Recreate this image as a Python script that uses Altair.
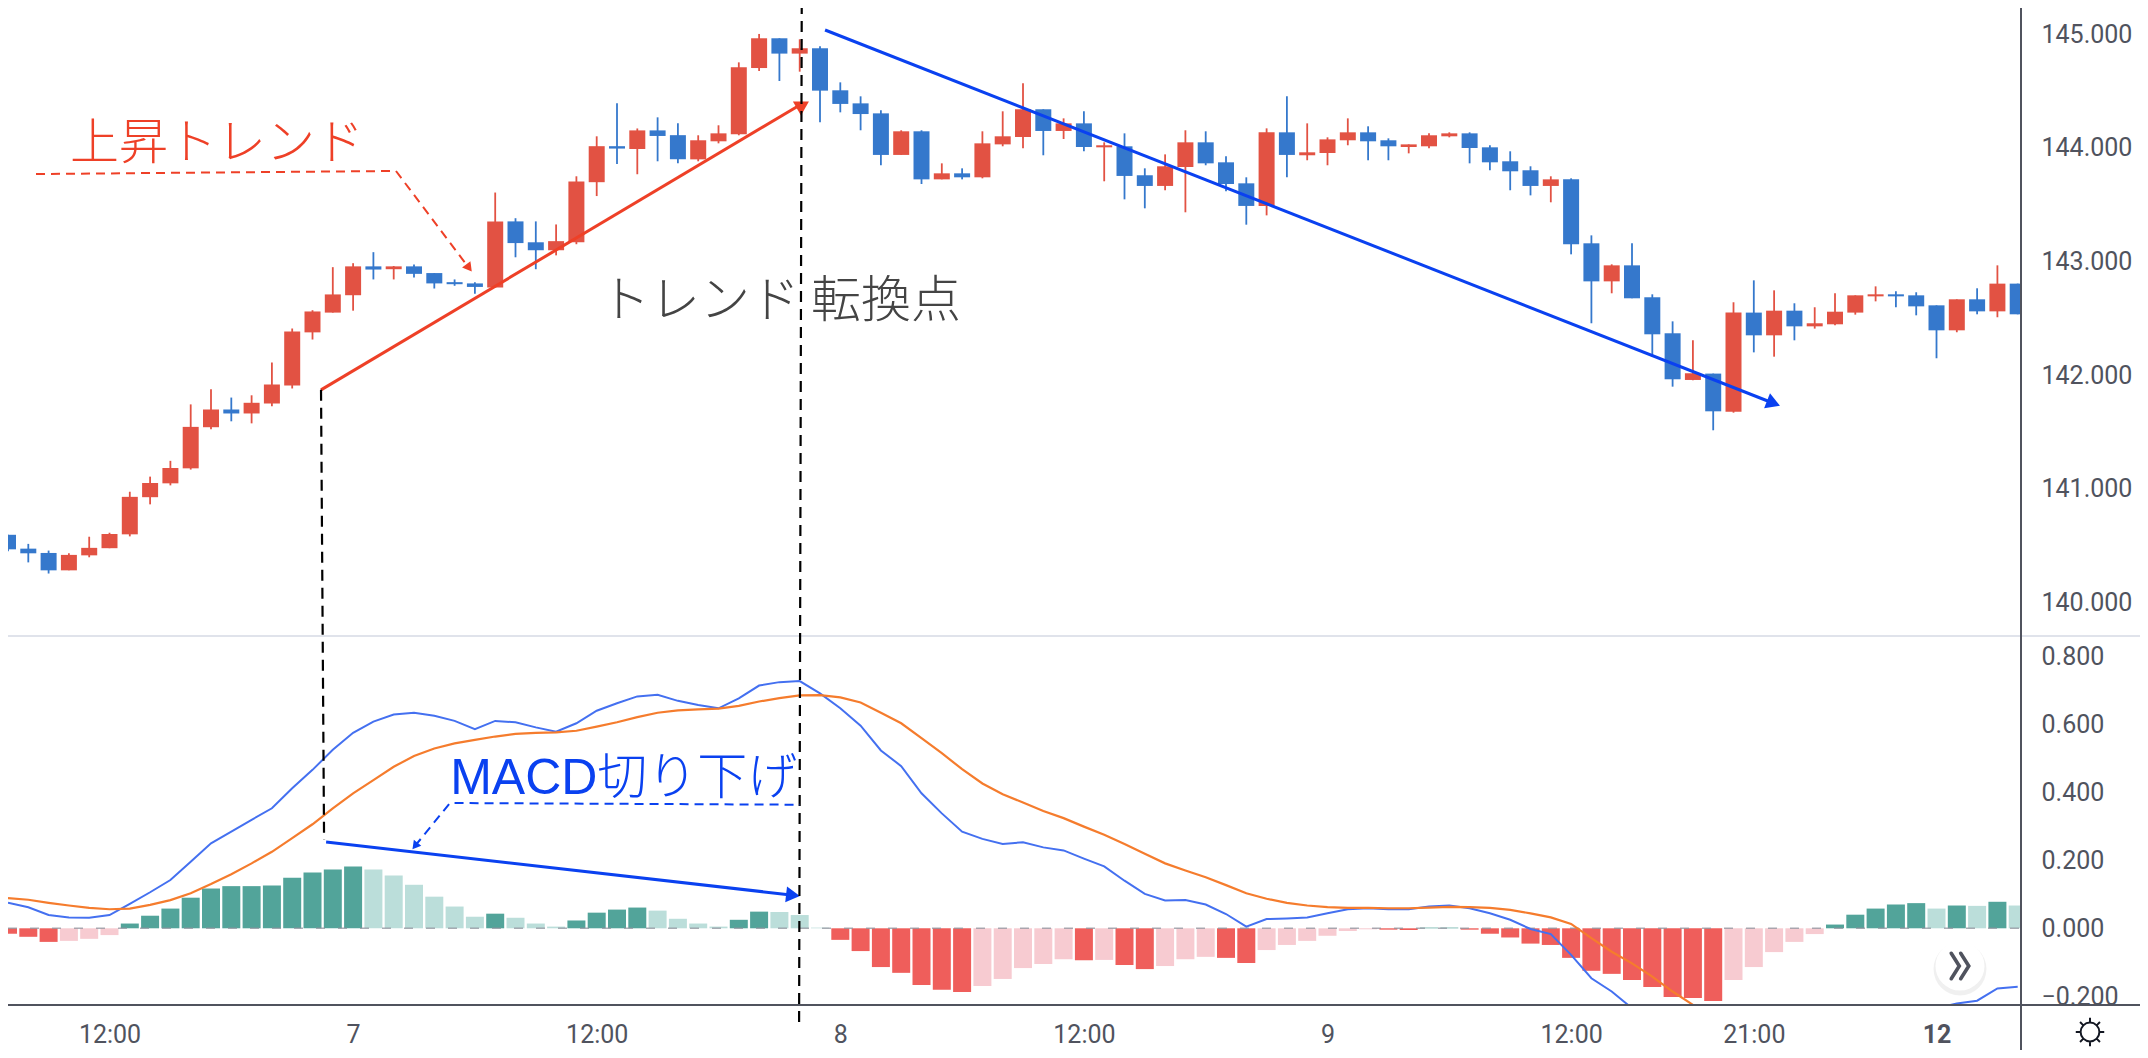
import altair as alt
import pandas as pd

open_ = [140.594,140.472,140.434,140.281,140.413,140.476,140.598,140.925,141.047,141.179,
141.541,141.697,141.662,141.749,141.909,142.376,142.550,142.703,142.957,142.932,
142.957,142.898,142.818,142.807,142.772,143.353,143.169,143.099,143.169,143.698,
144.015,143.990,144.154,144.112,143.899,144.058,144.119,144.703,144.965,144.830,
144.877,144.507,144.392,144.304,143.938,144.146,143.723,143.776,143.741,144.031,
144.096,144.340,144.149,144.216,144.005,144.014,143.759,143.665,143.832,144.049,
143.873,143.688,143.489,144.137,143.935,143.955,144.067,144.137,144.067,144.008,
144.014,144.102,144.128,144.005,143.882,143.803,143.665,143.723,143.160,142.825,
142.966,142.685,142.368,141.957,142.013,141.678,142.550,142.350,142.567,142.429,
142.447,142.550,142.693,142.711,142.702,142.614,142.394,142.667,142.561,142.805]
close = [140.466,140.431,140.281,140.417,140.479,140.601,140.928,141.050,141.182,141.544,
141.697,141.662,141.756,141.916,142.383,142.560,142.710,142.957,142.929,142.957,
142.891,142.807,142.800,142.776,143.353,143.162,143.099,143.179,143.705,144.015,
143.994,144.154,144.105,143.900,144.067,144.128,144.709,144.965,144.830,144.877,
144.504,144.387,144.298,143.938,144.146,143.723,143.776,143.741,144.040,144.102,
144.340,144.149,144.216,144.008,144.023,143.753,143.665,143.838,144.049,143.864,
143.682,143.489,144.137,143.938,143.961,144.075,144.137,144.058,144.014,144.031,
144.111,144.128,143.999,143.873,143.794,143.665,143.723,143.151,142.825,142.966,
142.676,142.359,141.963,142.016,141.681,142.550,142.350,142.567,142.429,142.456,
142.558,142.702,142.711,142.693,142.605,142.394,142.667,142.561,142.805,142.535]
high = [140.594,140.514,140.455,140.431,140.577,140.612,140.973,141.106,141.245,141.742,
141.875,141.802,141.822,142.111,142.410,142.571,142.950,142.985,143.082,142.960,
142.974,142.898,142.842,142.818,143.607,143.381,143.353,143.326,143.750,144.102,
144.394,144.171,144.269,144.216,144.111,144.199,144.753,145.003,144.965,144.956,
144.894,144.577,144.454,144.331,144.155,144.155,143.864,143.820,144.146,144.322,
144.568,144.340,144.260,144.322,144.049,144.128,143.820,143.943,144.155,144.146,
143.926,143.741,144.172,144.454,144.216,144.093,144.260,144.190,144.084,144.031,
144.128,144.137,144.137,144.023,143.970,143.838,143.750,143.732,143.230,142.975,
143.160,142.711,142.473,142.306,142.013,142.641,142.834,142.746,142.632,142.597,
142.720,142.702,142.781,142.737,142.729,142.614,142.667,142.764,142.966,142.805]
low = [140.448,140.351,140.253,140.281,140.396,140.476,140.580,140.862,141.029,141.168,
141.523,141.593,141.575,141.725,141.882,142.313,142.550,142.567,142.842,142.842,
142.859,142.762,142.786,142.717,142.772,143.037,142.932,143.054,143.152,143.576,
143.858,143.768,143.882,143.865,143.882,144.040,144.111,144.677,144.589,144.671,
144.225,144.313,144.155,143.847,143.938,143.682,143.723,143.723,143.732,144.014,
143.996,143.935,144.078,143.970,143.706,143.547,143.468,143.627,143.433,143.847,
143.618,143.324,143.406,143.741,143.891,143.847,144.023,143.891,143.891,143.952,
143.996,144.093,143.864,143.803,143.627,143.582,143.521,143.063,142.456,142.720,
142.676,142.162,141.898,141.954,141.514,141.669,142.200,142.162,142.306,142.409,
142.438,142.532,142.649,142.597,142.526,142.148,142.377,142.535,142.509,142.535]

hist = [-.016,-.025,-.040,-.037,-.031,-.020,.014,.037,.058,.090,
.117,.124,.124,.126,.149,.164,.173,.182,.173,.155,
.128,.093,.064,.034,.043,.031,.014,.005,.023,.046,
.055,.061,.052,.028,.014,.005,.025,.049,.048,.039,
.002,-.034,-.067,-.114,-.131,-.167,-.181,-.187,-.170,-.149,
-.117,-.105,-.091,-.094,-.093,-.108,-.120,-.111,-.091,-.084,
-.087,-.102,-.064,-.049,-.037,-.022,-.008,-.003,-.004,-.005,
.002,.002,-.004,-.016,-.027,-.045,-.049,-.087,-.125,-.134,
-.152,-.173,-.202,-.205,-.214,-.152,-.114,-.070,-.040,-.017,
.011,.040,.058,.070,.074,.058,.067,.066,.078,.067]
macd = [.075,.062,.039,.032,.031,.039,.072,.106,.142,.196,
.250,.284,.319,.353,.412,.466,.525,.575,.608,.629,
.634,.625,.610,.586,.610,.606,.591,.578,.603,.640,
.662,.682,.687,.669,.657,.647,.676,.714,.724,.727,
.691,.647,.596,.523,.477,.397,.338,.284,.263,.248,
.253,.238,.229,.205,.182,.140,.101,.082,.083,.070,
.042,.005,.027,.029,.032,.044,.056,.059,.056,.056,
.064,.067,.059,.044,.025,-.002,-.017,-.078,-.147,-.186,
-.235,-.300,-.380,-.430,-.480,-.440,-.410,-.380,-.360,-.350,
-.330,-.300,-.280,-.260,-.240,-.235,-.221,-.213,-.177,-.172]
signal = [.089,.084,.075,.067,.060,.056,.058,.069,.083,.103,
.130,.159,.191,.225,.265,.306,.353,.397,.436,.475,
.507,.529,.544,.554,.564,.572,.575,.576,.581,.593,
.606,.621,.634,.641,.644,.646,.654,.667,.677,.685,
.686,.679,.664,.634,.603,.559,.515,.468,.426,.394,
.370,.345,.324,.299,.275,.248,.219,.191,.170,.150,
.127,.103,.087,.075,.067,.062,.060,.060,.059,.059,
.061,.063,.062,.060,.054,.044,.032,.013,-.029,-.069,
-.103,-.142,-.186,-.225,-.270,-.290,-.300,-.310,-.320,-.325,
-.325,-.320,-.315,-.310,-.305,-.295,-.285,-.280,-.255,-.240]

tick_pos = [5, 17, 29, 41, 53, 65, 77, 86, 95]
tick_labels = ["12:00", "7", "12:00", "8", "12:00", "9", "12:00", "21:00", "12"]
price_ticks = [140, 141, 142, 143, 144, 145]
macd_ticks = [-0.2, 0, 0.2, 0.4, 0.6, 0.8]

red_trend_i, red_trend_p = [15.42, 39.01], [141.870, 144.378]
blue_trend_i, blue_trend_p = [40.25, 86.97], [145.038, 141.752]
macd_trend_i, macd_trend_v = [15.67, 38.67], [0.254, 0.0974]
drop1_i, drop1_p = [15.42, 15.57], [141.870, 137.907]
drop2_i, drop2_p = [39.10, 38.97], [145.2315, 136.305]
red_call_i, red_call_p = [1.38, 19.11, 22.71], [143.770, 143.797, 142.943]
blue_call_i, blue_call_v = [39.01, 21.77, 20.05], [0.3635, 0.3685, 0.2421]

UP, DOWN = "#E25243", "#3578CC"
H_UP, H_UP_L, H_DN, H_DN_L = "#52A49A", "#BBDEDA", "#EF5E5B", "#F7CBD1"
RED, BLUE = "#EE4027", "#0A41F0"
INK = "#50535E"
FONT = "Roboto"
JP = "Liberation Sans, Noto Sans CJK JP"
SUN_ICON = ("M-.66,0A.66,.66 0 1,1 .66,0A.66,.66 0 1,1 -.66,0Z"
            "M0,-.68L0,-1M0,.68L0,1M-.68,0L-1,0M.68,0L1,0"
            "M.5,-.5L.7,-.7M-.5,-.5L-.7,-.7M.5,.5L.7,.7M-.5,.5L-.7,.7")
CHEVRON_ICON = "M-.62,-.9L-.05,0L-.62,.9M.05,-.9L.62,0L.05,.9"

W, H, TOTAL_W, TOTAL_H = 2012, 997, 2132, 1042
PANE = 628

xs = alt.Scale(domain=[0, 99.113], range=[0, W], nice=False, zero=False, padding=0)
price_scale = alt.Scale(domain=[139.703, 145.2315], range=[PANE, 0], nice=False, zero=False)
macd_scale = alt.Scale(domain=[-0.2256, 0.8597], range=[H, PANE], nice=False, zero=False)

label_expr = ("[" + ",".join(f"'{t}'" for t in tick_labels) + "][indexof(["
              + ",".join(str(t) for t in tick_pos) + "],datum.value)]")
x_axis = alt.Axis(values=tick_pos, labelExpr=label_expr, title=None, domain=False, ticks=False,
                  grid=False, labelFont=FONT, labelFontSize=25, labelColor=INK, labelPadding=17,
                  labelFlush=False, labelOverlap=False,
                  labelFontWeight=alt.expr("datum.value == 95 ? 'bold' : 'normal'"))
X = alt.X("i:Q", scale=xs, axis=x_axis)


def y_axis(values, fmt=".3f"):
    return alt.Axis(values=values, format=fmt, title=None, orient="right", domain=False, ticks=False,
                    grid=False, labelFont=FONT, labelFontSize=25, labelColor=INK, labelPadding=21,
                    labelFlush=False, labelOverlap=False)


def PY(field, axis=None):
    return alt.Y(field, scale=price_scale, axis=axis)


def MY(field, axis=None):
    return alt.Y(field, scale=macd_scale, axis=axis)


n = list(range(len(open_)))
df = pd.DataFrame({"i": n, "open": open_, "close": close, "high": high, "low": low,
                   "hist": hist, "macd": macd, "signal": signal})
df["zero"] = 0.0
df["col"] = [UP if c >= o else DOWN for o, c in zip(open_, close)]
shade = []
for k, v in enumerate(hist):
    prev = hist[k - 1] if k else v
    if v >= 0:
        shade.append(H_UP if v >= prev else H_UP_L)
    else:
        shade.append(H_DN if v <= prev else H_DN_L)
df["shade"] = shade
C = alt.Color("col:N", scale=None)

wicks = alt.Chart(df).mark_rule(strokeWidth=1.8, clip=True).encode(
    x=X, y=PY("low:Q", y_axis(price_ticks)), y2="high:Q", color=C)
bodies = alt.Chart(df).mark_bar(size=16, clip=True).encode(
    x=X, y=PY("open:Q"), y2="close:Q", color=C)
bars = alt.Chart(df).mark_bar(size=18, clip=True).encode(
    x=X, y=MY("hist:Q", y_axis(macd_ticks)), y2="zero:Q", color=alt.Color("shade:N", scale=None))
zero_line = alt.Chart(pd.DataFrame({"v": [0.0]})).mark_rule(
    color="#8f929c", strokeWidth=1.5, strokeDash=[9, 13], opacity=0.75).encode(
    x=alt.value(0), x2=alt.value(W), y=MY("v:Q"))
macd_line = alt.Chart(df).mark_line(color="#4470F0", strokeWidth=2, clip=True).encode(x=X, y=MY("macd:Q"))
signal_line = alt.Chart(df).mark_line(color="#F57C2D", strokeWidth=2.2, clip=True).encode(x=X, y=MY("signal:Q"))


def path(xv, yv, axis_y, **kw):
    d = pd.DataFrame({"i": xv, "y": yv})
    return alt.Chart(d).mark_line(**kw).encode(x=X, y=axis_y("y:Q"))


def head(ix, val, axis_y, color, angle, size):
    d = pd.DataFrame({"i": [ix], "y": [val]})
    return alt.Chart(d).mark_point(shape="triangle-up", filled=True, opacity=1, color=color,
                                   angle=angle, size=size).encode(x=X, y=axis_y("y:Q"))


def label(text, ix, val, axis_y, color, size=50, font="Noto Sans CJK JP"):
    d = pd.DataFrame({"i": [ix], "y": [val], "t": [text]})
    return alt.Chart(d).mark_text(align="left", baseline="middle", font=font, fontSize=size,
                                  fontWeight=300, color=color).encode(x=X, y=axis_y("y:Q"), text="t:N")


def frame():
    return alt.Chart(pd.DataFrame({"a": [0]}))


divider = frame().mark_rule(color="#E0E3EB", strokeWidth=2).encode(
    x=alt.value(0), x2=alt.value(TOTAL_W), y=alt.value(PANE))
bottom = frame().mark_rule(color=INK, strokeWidth=2).encode(
    x=alt.value(0), x2=alt.value(TOTAL_W), y=alt.value(H))
right = frame().mark_rule(color=INK, strokeWidth=2).encode(
    x=alt.value(W + 1), y=alt.value(0), y2=alt.value(TOTAL_H))

shadow = frame().mark_circle(color="#000000", opacity=0.06, size=2800).encode(
    x=alt.value(1952), y=alt.value(961))
button = frame().mark_circle(color="#FFFFFF", opacity=1, size=2400).encode(
    x=alt.value(1952), y=alt.value(958))
chev = frame().mark_point(shape=CHEVRON_ICON, size=800, color=INK, strokeWidth=3.6, opacity=1,
                          strokeCap="round", filled=False).encode(x=alt.value(1952), y=alt.value(958))
sun = frame().mark_point(shape=SUN_ICON, size=810, color="#131722", strokeWidth=2, opacity=1,
                         filled=False).encode(x=alt.value(2082), y=alt.value(1024))

chart = alt.layer(
    wicks, bodies, bars, zero_line, macd_line, signal_line,
    divider, bottom, right,
    path(red_trend_i, red_trend_p, PY, color=RED, strokeWidth=3),
    head(39.06, 144.347, PY, RED, 180, 256),
    path(blue_trend_i, blue_trend_p, PY, color=BLUE, strokeWidth=3),
    head(86.97, 141.752, PY, BLUE, 111.5, 256),
    path(macd_trend_i, macd_trend_v, MY, color=BLUE, strokeWidth=3),
    head(38.67, 0.0974, MY, BLUE, 96.5, 256),
    path(drop1_i, drop1_p, PY, color="#000000", strokeWidth=2.2, strokeDash=[11, 7]),
    path(drop2_i, drop2_p, PY, color="#000000", strokeWidth=2.2, strokeDash=[11, 7]),
    path(red_call_i, red_call_p, PY, color=RED, strokeWidth=2, strokeDash=[9, 6]),
    head(22.71, 142.943, PY, RED, 142.6, 110),
    path(blue_call_i, blue_call_v, MY, color=BLUE, strokeWidth=2, strokeDash=[9, 6]),
    head(20.05, 0.2421, MY, BLUE, 218.4, 90),
    label("上昇トレンド", 3.05, 144.032, PY, RED, 49),
    label("トレンド 転換点", 29.16, 142.644, PY, "#444444", 50),
    label("MACD切り下げ", 21.78, 0.439, MY, BLUE, 50, JP),
    shadow, button, chev, sun,
).resolve_scale(y="independent").properties(
    width=W, height=H, background="#FFFFFF",
    padding={"left": 0, "top": 0, "right": TOTAL_W - W, "bottom": TOTAL_H - H},
    autosize=alt.AutoSizeParams(type="none")
).configure_view(stroke=None)

chart.save("out.html", embed_options={"renderer": "svg", "actions": False})
